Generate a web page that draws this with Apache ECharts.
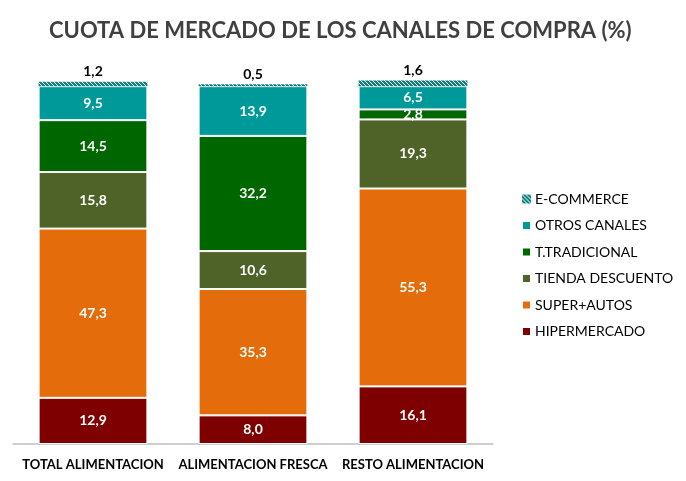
<!DOCTYPE html>
<html>
<head>
<meta charset="utf-8">
<script src="https://cdn.jsdelivr.net/npm/echarts@6/dist/echarts.min.js"></script>
<style>
  html, body { margin: 0; padding: 0; background: #fff; }
  #chart { width: 686px; height: 481px; }
</style>
</head>
<body>
<div id="chart"></div>
<script>
// Data
const categories = ['TOTAL ALIMENTACION', 'ALIMENTACION FRESCA', 'RESTO ALIMENTACION'];
const hipermercado = [12.9, 8.0, 16.1];
const superAutos = [47.3, 35.3, 55.3];
const tiendaDescuento = [15.8, 10.6, 19.3];
const tradicional = [14.5, 32.2, 2.8];
const otrosCanales = [9.5, 13.9, 6.5];
const ecommerce = [1.2, 0.5, 1.6];

// hatch pattern for e-commerce
function makeHatch() {
    const c = document.createElement('canvas');
    c.width = 4; c.height = 4;
    const ctx = c.getContext('2d');
    ctx.fillStyle = '#0f8080';
    ctx.fillRect(0, 0, 4, 4);
    ctx.strokeStyle = '#ffffff';
    ctx.lineWidth = 1;
    ctx.beginPath();
    ctx.moveTo(0, 0); ctx.lineTo(4, 4);
    ctx.stroke();
    return c;
}
const hatch = { image: makeHatch(), repeat: 'repeat' };

const font = 'Lato, "Open Sans", sans-serif';

function inner(name, data, color) {
    return {
        name: name,
        type: 'bar',
        stack: 'total',
        barWidth: '68%',
        data: data,
        itemStyle: { color: color, borderColor: '#fff', borderWidth: 1 },
        label: {
            show: true,
            position: 'inside',
            color: '#fff',
            fontWeight: 'bold',
            fontSize: 14,
            fontFamily: font,
            formatter: p => p.value.toFixed(1).replace('.', ',')
        }
    };
}

const chart = echarts.init(document.getElementById('chart'));

chart.setOption({
    animation: false,
    title: {
        text: 'CUOTA DE MERCADO DE LOS CANALES DE COMPRA (%)',
        left: 44,
        top: 15,
        textStyle: { fontFamily: font, fontSize: 22, fontWeight: 'bold', color: '#404040' }
    },
    grid: { left: 13, right: 193, top: 79, bottom: 37 },
    legend: {
        orient: 'vertical',
        left: 516,
        top: 187,
        itemWidth: 9,
        itemHeight: 9,
        itemGap: 12.5,
        icon: 'rect',
        data: ['E-COMMERCE', 'OTROS CANALES', 'T.TRADICIONAL', 'TIENDA DESCUENTO', 'SUPER+AUTOS', 'HIPERMERCADO'],
        textStyle: { fontFamily: font, fontSize: 14, color: '#000', padding: [0, 0, 0, -1] }
    },
    xAxis: {
        type: 'category',
        data: categories,
        axisLine: { lineStyle: { color: '#bfbfbf', width: 1.5 } },
        axisTick: { show: false },
        axisLabel: { interval: 0, hideOverlap: false, color: '#000', fontWeight: 'bold', fontSize: 13, fontFamily: font, margin: 14 }
    },
    yAxis: {
        type: 'value',
        min: 0,
        max: 102,
        show: false,
        splitLine: { show: false }
    },
    series: [
        inner('HIPERMERCADO', hipermercado, '#7f0000'),
        inner('SUPER+AUTOS', superAutos, '#e46c0a'),
        inner('TIENDA DESCUENTO', tiendaDescuento, '#4f6228'),
        inner('T.TRADICIONAL', tradicional, '#006600'),
        inner('OTROS CANALES', otrosCanales, '#009999'),
        {
            name: 'E-COMMERCE',
            type: 'bar',
            stack: 'total',
            barWidth: '68%',
            data: ecommerce,
            itemStyle: { color: hatch },
            label: {
                show: true,
                position: 'top',
                distance: 3,
                color: '#000',
                fontWeight: 'bold',
                fontSize: 14,
                fontFamily: font,
                formatter: p => p.value.toFixed(1).replace('.', ',')
            }
        }
    ]
});
</script>
</body>
</html>
